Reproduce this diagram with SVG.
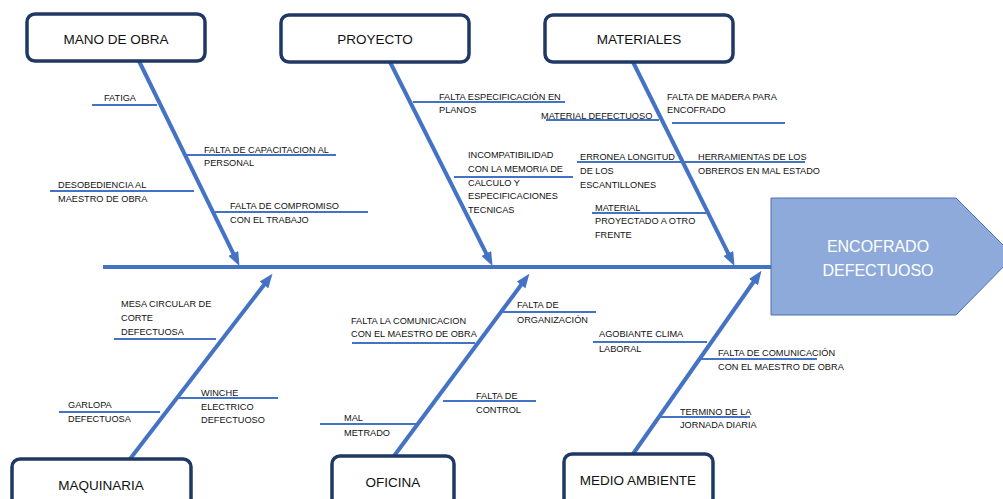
<svg xmlns="http://www.w3.org/2000/svg" width="1003" height="499" viewBox="0 0 1003 499">
<defs>
<marker id="ah" viewBox="0 0 14 11" refX="5" refY="5.5" markerWidth="14" markerHeight="11" markerUnits="userSpaceOnUse" orient="auto">
<path d="M0,0 L14,5.5 L0,11 z" fill="#4472c4"/>
</marker>
<style>
.box{fill:#fff;stroke:#1f3864;stroke-width:3.5}
.bt{font-family:"Liberation Sans",Arial,sans-serif;font-size:13.5px;fill:#111;text-anchor:middle}
.bone{stroke:#4472c4;stroke-width:4;fill:none}
.sub{stroke:#4472c4;stroke-width:2;fill:none}
.lb{font-family:"Liberation Sans",Arial,sans-serif;font-size:9.2px;fill:#111}
.ht{font-family:"Liberation Sans",Arial,sans-serif;font-size:16px;fill:#fff;text-anchor:middle}
</style>
</defs>
<rect width="1003" height="499" fill="#fff"/>

<g id="connectors">
<line class="bone" x1="103" y1="267" x2="771" y2="267"/>
<line class="bone" x1="139" y1="61" x2="235.5" y2="258" marker-end="url(#ah)"/>
<line class="bone" x1="390" y1="62" x2="488.5" y2="258" marker-end="url(#ah)"/>
<line class="bone" x1="633" y1="62" x2="730.5" y2="258" marker-end="url(#ah)"/>
<line class="bone" x1="130" y1="459" x2="267" y2="281" marker-end="url(#ah)"/>
<line class="bone" x1="394" y1="456" x2="524" y2="281" marker-end="url(#ah)"/>
<line class="bone" x1="633" y1="454" x2="756.3" y2="278" marker-end="url(#ah)"/>

<line class="sub" x1="92" y1="105" x2="157" y2="105"/>
<line class="sub" x1="187" y1="155" x2="336" y2="155"/>
<line class="sub" x1="50" y1="191" x2="194" y2="191"/>
<line class="sub" x1="215" y1="212" x2="368" y2="212"/>

<line class="sub" x1="413" y1="102" x2="565" y2="102"/>
<line class="sub" x1="454" y1="177" x2="573" y2="177"/>

<line class="sub" x1="546" y1="120" x2="659" y2="120"/>
<line class="sub" x1="672" y1="123" x2="785" y2="123"/>
<line class="sub" x1="577" y1="162" x2="805" y2="162"/>
<line class="sub" x1="592" y1="213" x2="708" y2="213"/>

<line class="sub" x1="114" y1="339" x2="216" y2="339"/>
<line class="sub" x1="59" y1="412" x2="160" y2="412"/>
<line class="sub" x1="179" y1="398" x2="278" y2="398"/>

<line class="sub" x1="352" y1="343" x2="475" y2="343"/>
<line class="sub" x1="503" y1="312" x2="596" y2="312"/>
<line class="sub" x1="443" y1="401" x2="536" y2="401"/>
<line class="sub" x1="320" y1="424" x2="417" y2="424"/>

<line class="sub" x1="593" y1="342" x2="707" y2="342"/>
<line class="sub" x1="700" y1="359" x2="817" y2="359"/>
<line class="sub" x1="660" y1="417" x2="750" y2="417"/>
</g>

<g id="labels">
<text class="lb" x="104" y="101">FATIGA</text>
<text class="lb"><tspan x="204" y="153">FALTA DE CAPACITACION AL</tspan><tspan x="204" y="166">PERSONAL</tspan></text>
<text class="lb"><tspan x="58" y="188">DESOBEDIENCIA AL</tspan><tspan x="58" y="202">MAESTRO DE OBRA</tspan></text>
<text class="lb"><tspan x="230" y="209">FALTA DE COMPROMISO</tspan><tspan x="230" y="223">CON EL TRABAJO</tspan></text>

<text class="lb"><tspan x="439" y="100">FALTA ESPECIFICACIÓN EN</tspan><tspan x="439" y="113">PLANOS</tspan></text>
<text class="lb"><tspan x="468" y="158">INCOMPATIBILIDAD</tspan><tspan x="468" y="172">CON LA MEMORIA DE</tspan><tspan x="468" y="186">CALCULO Y</tspan><tspan x="468" y="199">ESPECIFICACIONES</tspan><tspan x="468" y="213">TECNICAS</tspan></text>

<text class="lb" x="541" y="119">MATERIAL DEFECTUOSO</text>
<text class="lb"><tspan x="667" y="100">FALTA DE MADERA PARA</tspan><tspan x="667" y="113">ENCOFRADO</tspan></text>
<text class="lb"><tspan x="580" y="160">ERRONEA LONGITUD</tspan><tspan x="580" y="174">DE LOS</tspan><tspan x="580" y="188">ESCANTILLONES</tspan></text>
<text class="lb"><tspan x="698" y="160">HERRAMIENTAS DE LOS</tspan><tspan x="698" y="174">OBREROS EN MAL ESTADO</tspan></text>
<text class="lb"><tspan x="595" y="211">MATERIAL</tspan><tspan x="595" y="224">PROYECTADO A OTRO</tspan><tspan x="595" y="238">FRENTE</tspan></text>

<text class="lb"><tspan x="121" y="307">MESA CIRCULAR DE</tspan><tspan x="121" y="321">CORTE</tspan><tspan x="121" y="335">DEFECTUOSA</tspan></text>
<text class="lb"><tspan x="68" y="408">GARLOPA</tspan><tspan x="68" y="422">DEFECTUOSA</tspan></text>
<text class="lb"><tspan x="201" y="396">WINCHE</tspan><tspan x="201" y="410">ELECTRICO</tspan><tspan x="201" y="423">DEFECTUOSO</tspan></text>

<text class="lb"><tspan x="351" y="324">FALTA LA COMUNICACION</tspan><tspan x="351" y="337">CON EL MAESTRO DE OBRA</tspan></text>
<text class="lb"><tspan x="517" y="308">FALTA DE</tspan><tspan x="517" y="323">ORGANIZACIÓN</tspan></text>
<text class="lb"><tspan x="476" y="399">FALTA DE</tspan><tspan x="476" y="413">CONTROL</tspan></text>
<text class="lb"><tspan x="344" y="421">MAL</tspan><tspan x="344" y="436">METRADO</tspan></text>

<text class="lb"><tspan x="599" y="337">AGOBIANTE CLIMA</tspan><tspan x="599" y="352">LABORAL</tspan></text>
<text class="lb"><tspan x="718" y="356">FALTA DE COMUNICACIÓN</tspan><tspan x="718" y="370">CON EL MAESTRO DE OBRA</tspan></text>
<text class="lb"><tspan x="680" y="415">TERMINO DE LA</tspan><tspan x="680" y="428">JORNADA DIARIA</tspan></text>
</g>

<g id="mano-de-obra"><rect class="box" x="27" y="14" width="178" height="47" rx="8"/><text class="bt" x="116" y="44">MANO DE OBRA</text></g>
<g id="proyecto"><rect class="box" x="281" y="15" width="188" height="47" rx="8"/><text class="bt" x="375" y="44">PROYECTO</text></g>
<g id="materiales"><rect class="box" x="545" y="15" width="188" height="47" rx="8"/><text class="bt" x="639" y="44">MATERIALES</text></g>
<g id="maquinaria"><rect class="box" x="12" y="459" width="179" height="52" rx="8"/><text class="bt" x="101" y="490">MAQUINARIA</text></g>
<g id="oficina"><rect class="box" x="332" y="456" width="122" height="52" rx="8"/><text class="bt" x="393" y="487">OFICINA</text></g>
<g id="medio-ambiente"><rect class="box" x="564" y="454" width="149" height="52" rx="8"/><text class="bt" x="638" y="485">MEDIO AMBIENTE</text></g>

<g id="encofrado-defectuoso">
<polygon points="771,198 956,198 1014,256 956,315 771,315" fill="#8eaadb" stroke="#4a6fb5" stroke-width="1"/>
<text class="ht"><tspan x="878" y="252">ENCOFRADO</tspan><tspan x="878" y="276">DEFECTUOSO</tspan></text>
</g>
</svg>
